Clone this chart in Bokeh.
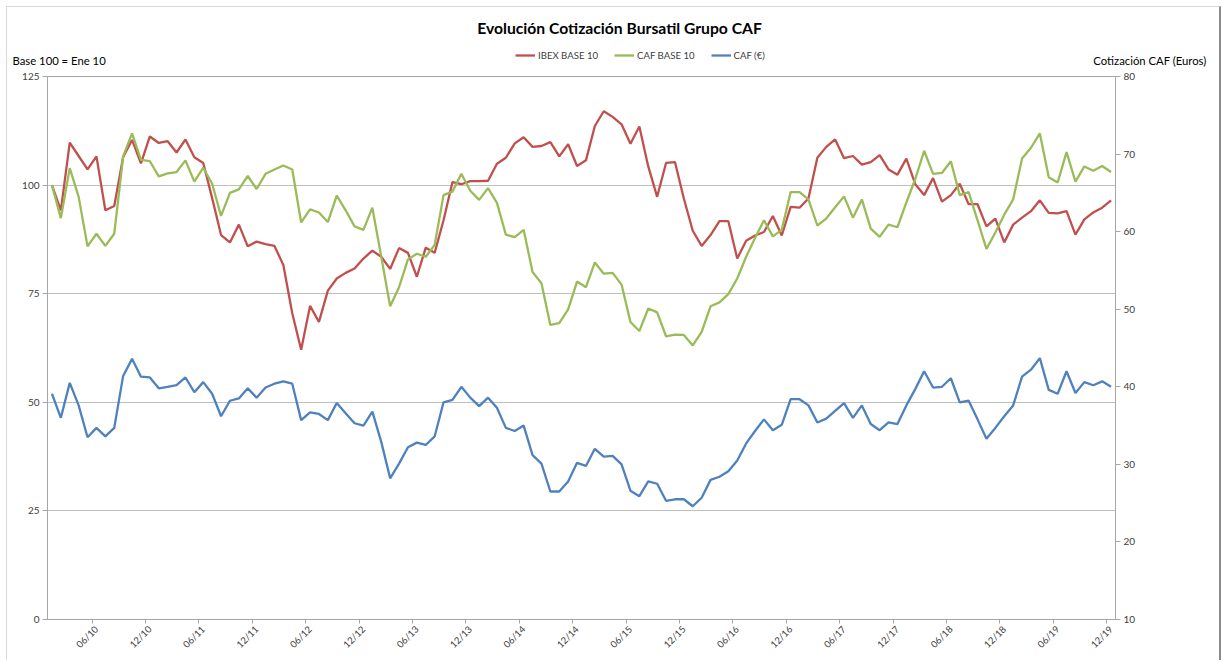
import math
from bokeh.plotting import figure
from bokeh.layouts import column
from bokeh.models import Range1d, LinearAxis, FixedTicker, Label, Legend, LegendItem
from bokeh.embed import file_html
from bokeh.resources import INLINE

# ---------------- data (monthly, Jan 2010 .. Dec 2019) ----------------
tick_labels = ["06/10", "12/10", "06/11", "12/11", "06/12", "12/12", "06/13", "12/13",
               "06/14", "12/14", "06/15", "12/15", "06/16", "12/16", "06/17", "12/17",
               "06/18", "12/18", "06/19", "12/19"]

ibex_base = [100.0, 94.2, 109.8, 106.7, 103.6, 106.6, 94.2, 95.2, 106.5, 110.4,
             105.0, 111.2, 109.7, 110.1, 107.5, 110.5, 106.4, 105.1, 97.0, 88.5,
             86.8, 90.9, 85.9, 87.0, 86.4, 86.0, 81.6, 70.5, 62.1, 72.2,
             68.5, 75.7, 78.5, 79.8, 80.8, 83.1, 84.9, 83.5, 80.7, 85.5,
             84.4, 78.9, 85.6, 84.4, 91.9, 100.7, 100.2, 100.9, 100.9, 101.0,
             104.9, 106.3, 109.6, 111.0, 108.8, 109.0, 109.9, 106.6, 109.4, 104.4,
             105.7, 113.6, 117.0, 115.7, 114.0, 109.5, 113.5, 104.3, 97.3, 105.1,
             105.3, 96.9, 89.5, 86.0, 88.5, 91.7, 91.7, 83.1, 87.2, 88.4,
             89.2, 92.9, 88.4, 95.0, 94.8, 96.9, 106.3, 108.8, 110.5, 106.2,
             106.7, 104.7, 105.3, 106.9, 103.6, 102.4, 106.1, 100.2, 97.7, 101.6,
             96.2, 97.7, 100.3, 95.6, 95.6, 90.5, 92.3, 86.8, 90.9, 92.5,
             94.0, 96.5, 93.6, 93.5, 94.0, 88.6, 92.1, 93.7, 94.8, 96.5]

caf_base = [100.0, 92.4, 103.9, 97.3, 85.9, 88.8, 86.0, 88.8, 106.6, 111.9,
            105.8, 105.5, 102.0, 102.7, 103.0, 105.7, 100.8, 104.0, 100.3, 92.9,
            98.2, 99.0, 102.1, 99.1, 102.6, 103.6, 104.5, 103.6, 91.4, 94.4,
            93.7, 91.5, 97.6, 94.2, 90.5, 89.7, 94.8, 83.5, 72.1, 76.5,
            82.9, 84.2, 83.5, 86.2, 97.7, 98.5, 102.6, 98.7, 96.6, 99.3,
            95.9, 88.6, 88.0, 89.7, 80.0, 77.4, 67.8, 68.2, 71.4, 77.8,
            76.5, 82.2, 79.6, 79.8, 77.1, 68.5, 66.4, 71.6, 70.7, 65.2,
            65.6, 65.5, 63.1, 66.2, 72.1, 73.0, 74.9, 78.5, 83.5, 87.8,
            91.9, 88.2, 89.7, 98.4, 98.4, 96.7, 90.7, 92.3, 94.9, 97.4,
            92.5, 96.7, 90.0, 88.1, 90.9, 90.3, 96.0, 101.4, 107.9, 102.6,
            102.8, 105.5, 97.7, 98.4, 91.9, 85.3, 89.1, 93.2, 96.7, 106.1,
            108.6, 111.9, 101.8, 100.6, 107.6, 100.8, 104.3, 103.3, 104.4, 103.0]

caf_eur = [39.1, 36.0, 40.5, 37.6, 33.5, 34.7, 33.6, 34.7, 41.4, 43.6,
           41.3, 41.2, 39.8, 40.0, 40.2, 41.2, 39.3, 40.6, 39.1, 36.2,
           38.2, 38.5, 39.8, 38.6, 39.9, 40.4, 40.7, 40.4, 35.7, 36.7,
           36.5, 35.7, 37.9, 36.6, 35.3, 35.0, 36.8, 32.9, 28.2, 30.1,
           32.2, 32.8, 32.5, 33.6, 38.0, 38.3, 40.0, 38.6, 37.5, 38.6,
           37.3, 34.7, 34.3, 35.0, 31.2, 30.1, 26.5, 26.5, 27.8, 30.2,
           29.8, 32.0, 31.0, 31.1, 30.0, 26.6, 25.9, 27.8, 27.5, 25.3,
           25.5, 25.5, 24.6, 25.7, 28.0, 28.4, 29.1, 30.5, 32.7, 34.3,
           35.8, 34.4, 35.1, 38.4, 38.4, 37.6, 35.4, 35.9, 36.9, 37.9,
           36.0, 37.6, 35.2, 34.4, 35.4, 35.2, 37.6, 39.7, 42.0, 39.9,
           40.0, 41.1, 38.0, 38.2, 35.8, 33.3, 34.7, 36.2, 37.6, 41.3,
           42.2, 43.7, 39.6, 39.1, 42.0, 39.2, 40.6, 40.2, 40.7, 40.0]

left_ticks = [0, 25, 50, 75, 100, 125]
right_ticks = [10, 20, 30, 40, 50, 60, 70, 80]

series_names = ["IBEX BASE 10", "CAF BASE 10", "CAF (€)"]
title_text = "Evolución Cotización Bursatil Grupo CAF"
left_name = "Base 100 = Ene 10"
right_name = "Cotización CAF (Euros)"

# ---------------- styling ----------------
FONT = "Lato"
RED, GREEN, BLUE = "#C0504D", "#9BBB59", "#4F81BD"
GRID = "#BFBFBF"
AX = "#A6A6A6"
TXT = "#404040"
OFF = 7            # chart-area border offset (page px)
W = 1212
TOP_H = 70 - OFF
NAN = float("nan")

# ---------------- header strip: title, legend, axis names ----------------
top = figure(width=W, height=TOP_H, output_backend="svg", toolbar_location=None,
             x_range=Range1d(OFF, OFF + W), y_range=Range1d(70, OFF),
             x_axis_location=None, y_axis_location=None,
             min_border=0, outline_line_color=None)
if "frame_align" in top.properties():
    top.frame_align = False
top.grid.visible = False
top.background_fill_color = "white"
top.border_fill_color = "white"

top.add_layout(Label(x=619, y=27, text=title_text, text_font=FONT,
                     text_font_size="15.7px", text_font_style="bold",
                     text_color="#000000", text_align="center", text_baseline="middle"))
top.add_layout(Label(x=12, y=60, text=left_name, text_font=FONT,
                     text_font_size="11.3px", text_color="#000000",
                     text_align="left", text_baseline="middle"))
top.add_layout(Label(x=1206, y=60, text=right_name, text_font=FONT,
                     text_font_size="11.3px", text_color="#000000",
                     text_align="right", text_baseline="middle"))

lg = [top.line([NAN, NAN], [NAN, NAN], line_color=c, line_width=2.3)
      for c in (RED, GREEN, BLUE)]
legend = Legend(items=[LegendItem(label=n, renderers=[r]) for n, r in zip(series_names, lg)],
                orientation="horizontal", location=(515 - OFF, 7),
                background_fill_alpha=0, border_line_color=None,
                padding=0, margin=0, spacing=16, label_standoff=3,
                glyph_width=20, glyph_height=16, label_height=16,
                label_text_font=FONT, label_text_font_size="9.6px",
                label_text_color=TXT)
top.add_layout(legend, "center")

# ---------------- main chart ----------------
x = list(range(len(ibex_base)))
tick_pos = [(int(l[3:]) - 10) * 12 + int(l[:2]) - 1 for l in tick_labels]

p = figure(width=W, height=590, output_backend="svg", toolbar_location=None,
           x_range=Range1d(-0.5, len(x) - 0.5), y_range=Range1d(0, 125),
           min_border_left=47 - OFF, min_border_right=OFF + W - 1115, min_border_top=6,
           min_border_bottom=41)
if "frame_align" in p.properties():
    p.frame_align = False
p.extra_y_ranges = {"eur": Range1d(10, 80)}
p.outline_line_color = AX
p.background_fill_color = "white"
p.border_fill_color = "white"

p.line(x, ibex_base, line_color=RED, line_width=2.3)
p.line(x, caf_base, line_color=GREEN, line_width=2.3)
p.line(x, caf_eur, line_color=BLUE, line_width=2.3, y_range_name="eur")

p.yaxis.ticker = FixedTicker(ticks=left_ticks)
raxis = LinearAxis(y_range_name="eur", ticker=FixedTicker(ticks=right_ticks))
p.add_layout(raxis, "right")
for ax in (p.yaxis[0], raxis):
    ax.axis_line_color = AX
    ax.major_tick_line_color = AX
    ax.major_tick_out = 5
    ax.major_tick_in = 0
    ax.minor_tick_line_color = None
    ax.major_label_text_font = FONT
    ax.major_label_text_font_size = "10px"
    ax.major_label_text_color = TXT
    ax.major_label_standoff = 3

xa = p.xaxis[0]
xa.ticker = FixedTicker(ticks=tick_pos, minor_ticks=[t - 0.5 for t in tick_pos])
xa.major_label_overrides = {t: l for t, l in zip(tick_pos, tick_labels)}
xa.major_label_orientation = math.pi / 4
xa.major_tick_line_color = None
xa.minor_tick_line_color = AX
xa.minor_tick_out = 4
xa.minor_tick_in = 0
xa.axis_line_color = AX
xa.major_label_text_font = FONT
xa.major_label_text_font_size = "9.5px"
xa.major_label_text_color = TXT
xa.major_label_standoff = 2

p.xgrid.visible = False
p.ygrid.grid_line_color = GRID
p.ygrid.grid_line_width = 1

layout = column(top, p, spacing=0, margin=(OFF - 1, 0, 0, OFF - 1),
                styles={"border-top": "1px solid #D9D9D9",
                        "border-left": "1px solid #D9D9D9",
                        "border-right": "2px solid #8C8C8C"})
open("out.html", "w").write(file_html(layout, INLINE))
